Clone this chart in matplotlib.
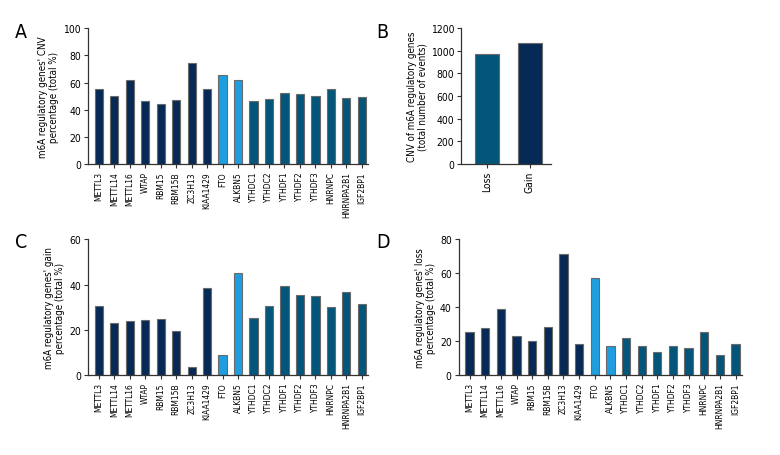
import matplotlib
matplotlib.use("Agg")
import matplotlib.pyplot as plt
import numpy as np

plt.rcParams['font.family'] = ['DejaVu Sans']
plt.rcParams['font.stretch'] = 'condensed'

# Data
genes = ['METTL3', 'METTL14', 'METTL16', 'WTAP', 'RBM15', 'RBM15B', 'ZC3H13',
         'KIAA1429', 'FTO', 'ALKBN5', 'YTHDC1', 'YTHDC2', 'YTHDF1', 'YTHDF2',
         'YTHDF3', 'HNRNPC', 'HNRNPA2B1', 'IGF2BP1']
gene_group = ['writer'] * 8 + ['eraser'] * 2 + ['reader'] * 8

cnv_total = [55.0, 49.9, 62.2, 46.4, 44.2, 47.2, 74.7, 55.0, 65.8, 62.2,
             46.2, 47.7, 52.1, 51.4, 50.4, 55.0, 48.4, 49.6]
gain_pct = [30.7, 23.2, 24.0, 24.5, 24.6, 19.6, 3.8, 38.3, 9.0, 45.3,
            25.1, 30.5, 39.4, 35.5, 35.1, 30.2, 36.9, 31.6]
loss_pct = [25.2, 27.9, 39.1, 23.2, 20.0, 28.3, 71.1, 18.3, 57.4, 17.1,
            22.0, 17.3, 13.8, 16.9, 16.3, 25.7, 11.6, 18.5]

event_types = ['Loss', 'Gain']
event_counts = [970, 1067]

colors = {'writer': '#062a55', 'eraser': '#1e9ee0', 'reader': '#04557a'}
edge = '#6a6a6a'
spine_col = '#333333'


def style_axes(ax):
    for s in ['top', 'right']:
        ax.spines[s].set_visible(False)
    for s in ['left', 'bottom']:
        ax.spines[s].set_color(spine_col)
        ax.spines[s].set_linewidth(0.9)
    ax.tick_params(axis='y', labelsize=7.5, length=3, width=0.8,
                   color=spine_col, pad=2)
    ax.tick_params(axis='x', labelsize=6, length=3, width=0.8,
                   color=spine_col, pad=2)


def gene_panel(ax, values, ymax, ystep, ylabel):
    x = np.arange(len(genes))
    ax.bar(x, values, width=0.53, color=[colors[g] for g in gene_group],
           edgecolor=edge, linewidth=0.8)
    ax.set_xlim(-0.7, 17.4)
    ax.set_ylim(0, ymax)
    ax.set_yticks(np.arange(0, ymax + 1, ystep))
    ax.set_xticks(x)
    ax.set_xticklabels(genes, rotation=90)
    ax.set_ylabel(ylabel, fontsize=7, linespacing=1.1, labelpad=3)
    style_axes(ax)


fig = plt.figure(figsize=(7.8, 4.56), dpi=100)

axA = fig.add_axes([0.1128, 0.638, 0.359, 0.298])
gene_panel(axA, cnv_total, 100, 20, "m6A regulatory genes' CNV\npercentage (total %)")

axB = fig.add_axes([0.591, 0.638, 0.115, 0.298])
xb = np.arange(len(event_types))
axB.bar(xb, event_counts, width=0.56, color=[colors['reader'], colors['writer']],
        edgecolor=edge, linewidth=0.8)
axB.set_xlim(-0.6, 1.49)
axB.set_ylim(0, 1200)
axB.set_yticks(np.arange(0, 1201, 200))
axB.set_xticks(xb)
axB.set_xticklabels(event_types, rotation=90)
axB.set_ylabel("CNV of m6A regulatory genes\n(total number of events)", fontsize=7,
               linespacing=1.1, labelpad=2)
style_axes(axB)
axB.tick_params(axis='x', labelsize=7.5)

axC = fig.add_axes([0.1128, 0.175, 0.359, 0.298])
gene_panel(axC, gain_pct, 60, 20, "m6A regulatory genes' gain\npercentage (total %)")

axD = fig.add_axes([0.588, 0.175, 0.363, 0.298])
gene_panel(axD, loss_pct, 80, 20, "m6A regulatory genes' loss\npercentage (total %)")

for letter, (lx, ly) in zip('ABCD', [(0.019, 0.917), (0.482, 0.917),
                                     (0.019, 0.456), (0.482, 0.456)]):
    fig.text(lx, ly, letter, fontsize=14, ha='left', va='baseline')

fig.savefig('out.png', dpi=100)
